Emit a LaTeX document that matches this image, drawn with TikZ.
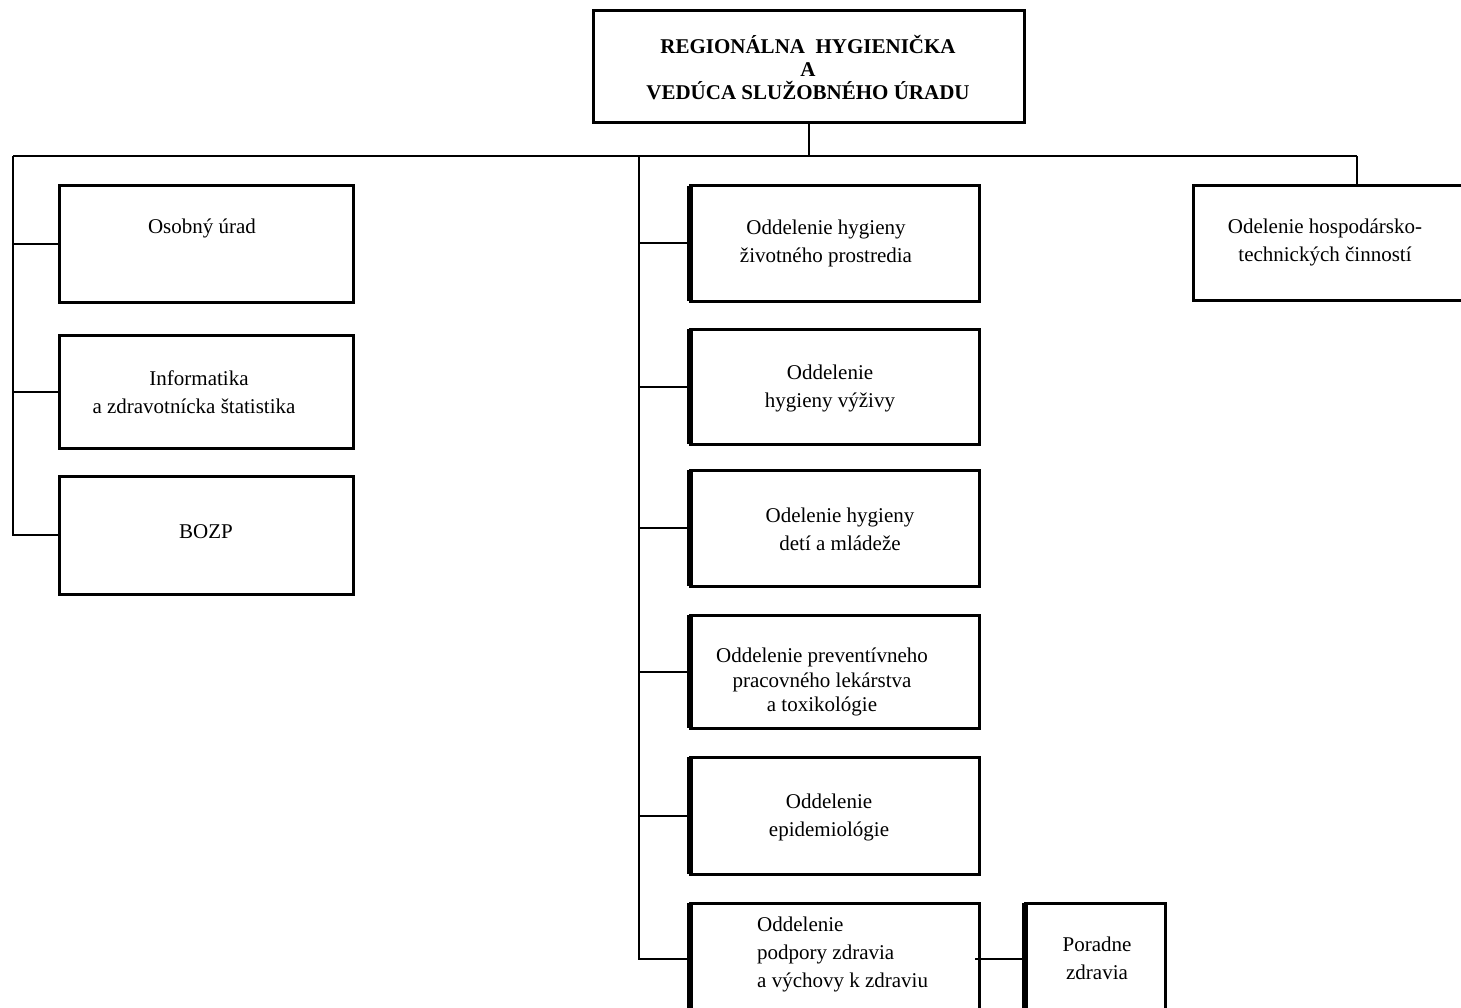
\documentclass[tikz,border=0pt]{standalone}
\usepackage{fontspec}
\setmainfont{Liberation Serif}
\begin{document}
\begin{tikzpicture}[x=1pt,y=-1pt,
  box/.style={draw=black, rectangle, inner sep=0pt, outer sep=0pt, line width=3pt},
  dbox/.style={box, line width=3pt},
  thickedge/.style={draw=black, line width=6pt},
  conn/.style={draw=black, line width=2pt},
  txt/.style={inner sep=0pt, align=center, font=\fontsize{21}{28}\selectfont},
  ttl/.style={inner sep=0pt, align=center, font=\fontsize{21}{23}\selectfont\bfseries}]
\useasboundingbox (0,0) rectangle (1461,1008);
\clip (0,0) rectangle (1461,1008);
% boxes
\node[box, minimum width=431pt, minimum height=112pt] (top) at (808.5,67) {};
\node[box, minimum width=294pt, minimum height=116pt] (osobny) at (206,244) {};
\node[box, minimum width=294pt, minimum height=113pt] (info) at (206,391.5) {};
\node[box, minimum width=294pt, minimum height=118pt] (bozp) at (206,535) {};
\node[dbox, minimum width=289pt, minimum height=115pt] (zp) at (834.5,243.5) {};
\node[dbox, minimum width=289pt, minimum height=115pt] (vyz) at (834.5,386.5) {};
\node[dbox, minimum width=289pt, minimum height=116pt] (deti) at (834.5,528) {};
\node[dbox, minimum width=289pt, minimum height=113pt] (prev) at (834.5,671.5) {};
\node[dbox, minimum width=289pt, minimum height=117pt] (epi) at (834.5,815.5) {};
\node[dbox, minimum width=289pt, minimum height=112pt] (podp) at (834.5,959) {};
\node[dbox, minimum width=140pt, minimum height=112pt] (poradne) at (1095,959) {};
\node[box, minimum width=277pt, minimum height=114pt] (hosp) at (1331.5,243) {};
\foreach \b in {zp,vyz,deti,prev,epi,podp,poradne}
  \draw[thickedge] (\b.north west) -- (\b.south west);
% texts
\node[ttl] (ttop) at (808,68) {REGIONÁLNA\ \ HYGIENIČKA\\A\\VEDÚCA SLUŽOBNÉHO ÚRADU};
\node[txt] (tosobny) at (202,228) {Osobný úrad};
\node[txt] (tinfo) at (194,392) {\hspace*{10pt}Informatika\\a zdravotnícka štatistika};
\node[txt] (tbozp) at (206,532) {BOZP};
\node[txt] (tzp) at (826,243) {Oddelenie hygieny\\životného prostredia};
\node[txt] (tvyz) at (830,388) {Oddelenie\\hygieny výživy};
\node[txt] (tdeti) at (840,529) {Odelenie hygieny\\detí a mládeže};
\node[txt, font=\fontsize{21}{24.5}\selectfont] (tprev) at (822,682) {Oddelenie preventívneho\\pracovného lekárstva\\a toxikológie};
\node[txt] (tepi) at (829,817) {Oddelenie\\epidemiológie};
\node[txt, align=left, anchor=north west] (tpodp) at (757,917) {Oddelenie\\podpory zdravia\\a výchovy k zdraviu};
\node[txt] (tporadne) at (1097,958) {Poradne\\zdravia};
\node[txt] (thosp) at (1325,242) {Odelenie hospodársko-\\technických činností};
% connectors
\coordinate (busL) at (13,156);
\coordinate (busM) at (639,156);
\coordinate (busR) at (1357,156);
\draw[conn] (top.south) -- (top.south |- busL);
\draw[conn] (busL) -- (busR);
\draw[conn] (busR) -- (busR |- hosp.north);
\draw[conn] (busL) |- (bozp.west);
\draw[conn] (busL |- osobny.west) -- (osobny.west);
\draw[conn] (busL |- info.west) -- (info.west);
\draw[conn] (busM) |- (podp.west);
\draw[conn] (busM |- zp.west) -- (zp.west);
\draw[conn] (busM |- vyz.west) -- (vyz.west);
\draw[conn] (busM |- deti.west) -- (deti.west);
\draw[conn] (busM |- prev.west) -- (prev.west);
\draw[conn] (busM |- epi.west) -- (epi.west);
\draw[conn] ([xshift=-4pt]podp.east) -- (poradne.west);
\end{tikzpicture}
\end{document}
